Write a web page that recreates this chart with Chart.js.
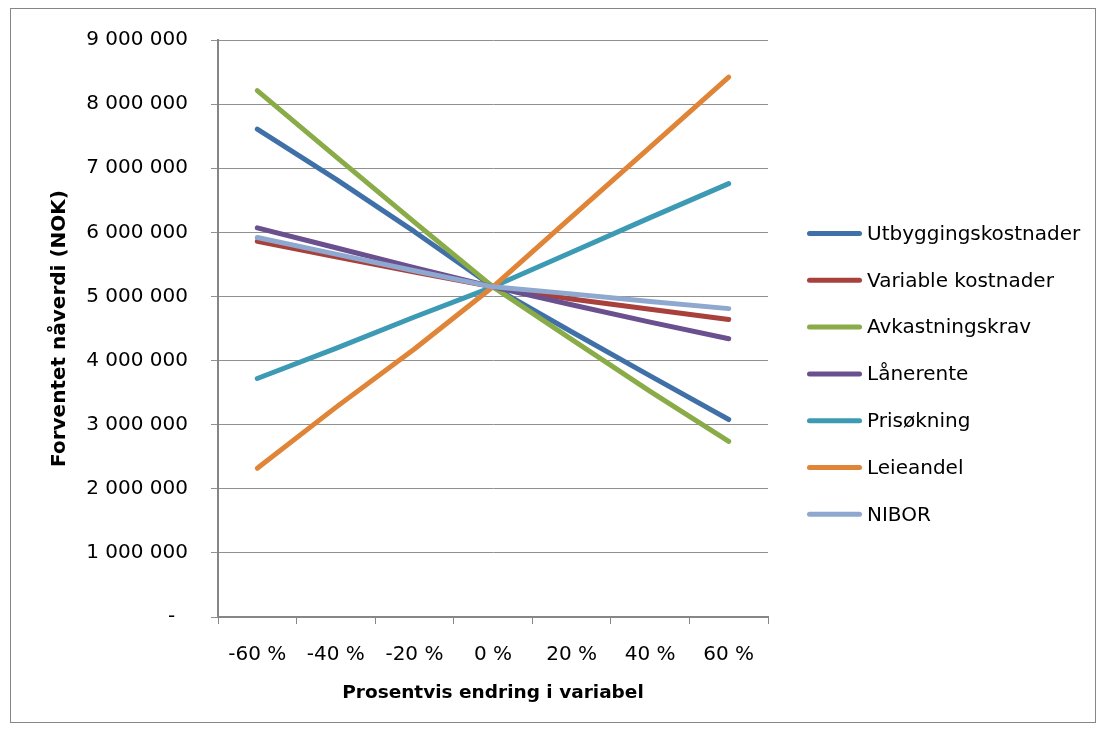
<!DOCTYPE html>
<html>
<head>
<meta charset="utf-8">
<script src="https://cdn.jsdelivr.net/npm/chart.js@4.4.1/dist/chart.umd.min.js"></script>
<style>
  html, body { margin: 0; padding: 0; background: #fff; }
  #wrap { width: 1105px; height: 731px; }
</style>
</head>
<body>
<div id="wrap"><canvas id="c" width="1105" height="731"></canvas></div>
<script>
// Sensitivity of expected net present value to a change in each input variable
const categories = ['-60 %', '-40 %', '-20 %', '0 %', '20 %', '40 %', '60 %'];

const utbyggingskostnader = [7610000, 6830000, 6010000, 5150000, 4450000, 3760000, 3080000];
const variableKostnader   = [5860000, 5620000, 5380000, 5150000, 4960000, 4800000, 4640000];
const avkastningskrav     = [8210000, 7180000, 6160000, 5150000, 4330000, 3520000, 2740000];
const lanerente           = [6070000, 5760000, 5450000, 5150000, 4870000, 4600000, 4340000];
const prisokning          = [3720000, 4190000, 4680000, 5150000, 5690000, 6230000, 6760000];
const leieandel           = [2320000, 3270000, 4180000, 5150000, 6240000, 7330000, 8420000];
const nibor               = [5920000, 5660000, 5400000, 5150000, 5040000, 4920000, 4810000];

const seriesNames  = ['Utbyggingskostnader', 'Variable kostnader', 'Avkastningskrav', 'Lånerente', 'Prisøkning', 'Leieandel', 'NIBOR'];
const seriesData   = [utbyggingskostnader, variableKostnader, avkastningskrav, lanerente, prisokning, leieandel, nibor];
const seriesColors = ['#4070A8', '#A8403C', '#8AAC48', '#6A508E', '#3C9AB4', '#E08438', '#8EA8D0'];

const yTickLabels = ['-\u2007', '1 000 000', '2 000 000', '3 000 000', '4 000 000',
                     '5 000 000', '6 000 000', '7 000 000', '8 000 000', '9 000 000'];

Chart.defaults.font.family = "'DejaVu Sans', sans-serif";
Chart.defaults.color = '#000';

// White background and thin outer frame
const framePlugin = {
  id: 'frame',
  beforeDraw(chart) {
    const ctx = chart.ctx;
    ctx.save();
    ctx.fillStyle = '#fff';
    ctx.fillRect(0, 0, chart.width, chart.height);
    ctx.restore();
  },
  afterDraw(chart) {
    const ctx = chart.ctx;
    ctx.save();
    ctx.strokeStyle = '#868686';
    ctx.lineWidth = 1;
    ctx.strokeRect(10.5, 8.5, 1085, 714);
    ctx.restore();
  }
};

// Legend drawn as a column to the right of the plot
const sideLegend = {
  id: 'sideLegend',
  afterDraw(chart) {
    const ctx = chart.ctx;
    const x0 = 809.5, x1 = 859.5, textX = 867;
    const top = 233.5, step = 46.8;
    ctx.save();
    ctx.font = "20px 'DejaVu Sans', sans-serif";
    ctx.textBaseline = 'middle';
    ctx.textAlign = 'left';
    chart.data.datasets.forEach((ds, i) => {
      const y = top + i * step;
      ctx.strokeStyle = ds.borderColor;
      ctx.lineWidth = 5;
      ctx.lineCap = 'round';
      ctx.beginPath();
      ctx.moveTo(x0, y);
      ctx.lineTo(x1, y);
      ctx.stroke();
      ctx.fillStyle = '#000';
      ctx.fillText(ds.label, textX, y + 1);
    });
    ctx.restore();
  }
};

new Chart(document.getElementById('c'), {
  type: 'line',
  data: {
    labels: categories,
    datasets: seriesNames.map((name, i) => ({
      label: name,
      data: seriesData[i],
      borderColor: seriesColors[i],
      backgroundColor: seriesColors[i],
      borderWidth: 5,
      borderCapStyle: 'round',
      borderJoinStyle: 'round',
      pointRadius: 0,
      pointHoverRadius: 0,
      tension: 0,
      fill: false,
      order: seriesNames.length - i
    }))
  },
  options: {
    responsive: false,
    animation: false,
    devicePixelRatio: 1,
    layout: { padding: { top: 40, right: 337, bottom: 0, left: 0 } },
    plugins: {
      legend: { display: false },
      tooltip: { enabled: false }
    },
    scales: {
      x: {
        offset: true,
        grid: { offset: true, drawOnChartArea: false, tickLength: 7, color: '#868686', lineWidth: 1 },
        border: { color: '#868686', width: 2 },
        ticks: { font: { size: 20 }, color: '#000', padding: 19, maxRotation: 0, autoSkip: false },
        title: {
          display: true,
          text: 'Prosentvis endring i variabel',
          font: { size: 18.5, weight: 'bold' },
          color: '#000',
          padding: { top: 0, bottom: 27 }
        },
        afterFit(scale) { scale.height = 114; }
      },
      y: {
        min: 0,
        max: 9000000,
        ticks: {
          stepSize: 1000000,
          font: { size: 20 },
          color: '#000',
          padding: 23,
          callback: (v, i) => yTickLabels[i]
        },
        grid: { tickLength: 7, color: '#909090', lineWidth: 1 },
        border: { color: '#868686', width: 2 },
        title: {
          display: true,
          text: 'Forventet nåverdi (NOK)',
          font: { size: 20, weight: 'bold' },
          color: '#000',
          padding: { top: 48, bottom: 0 }
        },
        afterFit(scale) { scale.width = 218; }
      }
    }
  },
  plugins: [framePlugin, sideLegend]
});
</script>
</body>
</html>
